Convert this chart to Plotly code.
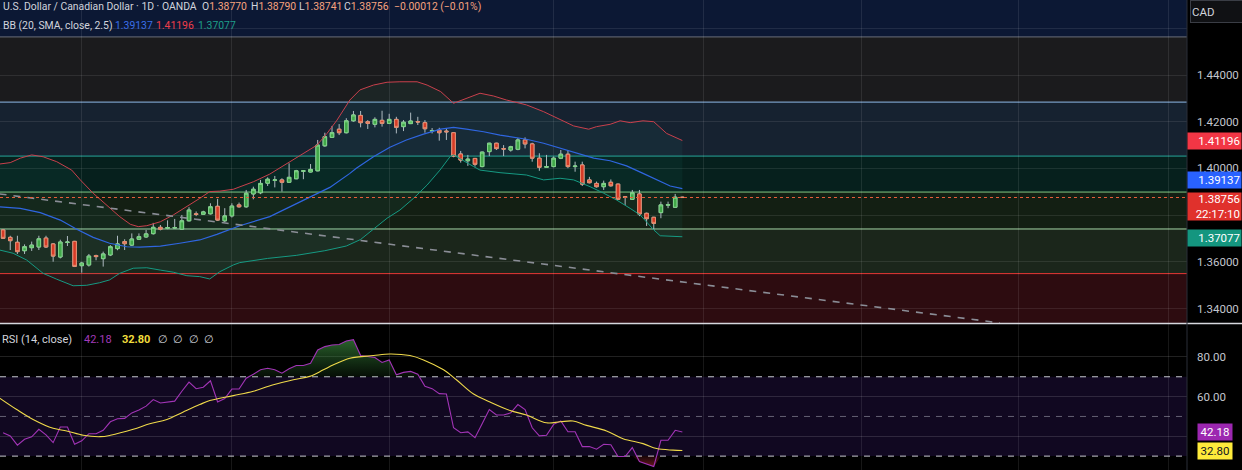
import plotly.graph_objects as go

# ---------------- data ----------------
opens = [1.3737,1.3705,1.3684,1.3648,1.3661,1.3664,1.3702,1.3677,1.3621,1.3683,
         1.3688,1.3584,1.3587,1.3627,1.3614,1.3630,1.3657,1.3687,1.3672,1.3697,
         1.3707,1.3721,1.3748,1.3744,1.3745,1.3740,1.3776,1.3806,1.3804,1.3806,
         1.3838,1.3776,1.3797,1.3844,1.3836,1.3891,1.3896,1.3937,1.3949,1.3951,
         1.3941,1.3956,1.3988,1.3985,1.3990,1.4097,1.4133,1.4168,1.4153,1.4204,
         1.4227,1.4200,1.4189,1.4206,1.4193,1.4210,1.4179,1.4192,1.4201,1.4196,
         1.4160,1.4164,1.4160,1.4153,1.4062,1.4033,1.4043,1.4008,1.4072,1.4108,
         1.4085,1.4079,1.4082,1.4122,1.4105,1.4044,1.4005,1.4008,1.4044,1.4061,
         1.4008,1.4015,1.3951,1.3936,1.3922,1.3941,1.3933,1.3879,1.3868,1.3891,
         1.3808,1.3791,1.3811,1.3843,1.3834,1.38770]
highs = [1.3740,1.3712,1.3712,1.3675,1.3687,1.3712,1.3712,1.3680,1.3695,1.3711,
         1.3690,1.3600,1.3634,1.3631,1.3644,1.3672,1.3712,1.3697,1.3722,1.3722,
         1.3737,1.3767,1.3758,1.3778,1.3784,1.3801,1.3834,1.3816,1.3819,1.3851,
         1.3870,1.3830,1.3851,1.3854,1.3908,1.3922,1.3951,1.3962,1.3968,1.3958,
         1.4022,1.3994,1.3993,1.4019,1.4122,1.4153,1.4182,1.4190,1.4215,1.4246,
         1.4246,1.4207,1.4219,1.4247,1.4234,1.4221,1.4207,1.4239,1.4221,1.4207,
         1.4173,1.4174,1.4172,1.4155,1.4075,1.4058,1.4045,1.4072,1.4110,1.4110,
         1.4100,1.4097,1.4130,1.4133,1.4110,1.4065,1.4058,1.4051,1.4079,1.4079,
         1.4029,1.4029,1.3964,1.3944,1.3948,1.3953,1.3935,1.3879,1.3908,1.3908,
         1.3811,1.3793,1.3858,1.3858,1.3891,1.38790]
lows = [1.3698,1.3651,1.3634,1.3634,1.3647,1.3651,1.3660,1.3601,1.3615,1.3668,
        1.3578,1.3554,1.3580,1.3607,1.3580,1.3625,1.3650,1.3651,1.3668,1.3694,
        1.3703,1.3717,1.3735,1.3740,1.3742,1.3738,1.3773,1.3796,1.3802,1.3803,
        1.3776,1.3770,1.3790,1.3832,1.3832,1.3868,1.3890,1.3925,1.3919,1.3901,
        1.3938,1.3954,1.3954,1.3983,1.3988,1.4093,1.4131,1.4143,1.4150,1.4200,
        1.4176,1.4169,1.4176,1.4179,1.4190,1.4150,1.4160,1.4190,1.4186,1.4153,
        1.4150,1.4119,1.4122,1.4048,1.4025,1.4011,1.4008,1.4005,1.4053,1.4079,
        1.4053,1.4072,1.4078,1.4086,1.4029,1.3990,1.4005,1.4005,1.4040,1.4001,
        1.3986,1.3925,1.3936,1.3918,1.3908,1.3922,1.3865,1.3844,1.3865,1.3796,
        1.3754,1.3737,1.3787,1.3830,1.3832,1.38741]
closes = [1.3701,1.3691,1.3644,1.3665,1.3672,1.3699,1.3664,1.3625,1.3685,1.3685,
          1.3581,1.3595,1.3625,1.3623,1.3634,1.3665,1.3677,1.3678,1.3698,1.3708,
          1.3720,1.3748,1.3740,1.3747,1.3747,1.3776,1.3822,1.3803,1.3814,1.3836,
          1.3779,1.3797,1.3839,1.3836,1.3894,1.3911,1.3936,1.3954,1.3951,1.3941,
          1.3962,1.3990,1.3990,1.3996,1.4100,1.4136,1.4153,1.4153,1.4204,1.4229,
          1.4196,1.4193,1.4210,1.4193,1.4210,1.4176,1.4198,1.4203,1.4199,1.4170,
          1.4162,1.4153,1.4157,1.4053,1.4036,1.4040,1.4018,1.4070,1.4108,1.4085,
          1.4083,1.4093,1.4122,1.4105,1.4044,1.4005,1.4008,1.4044,1.4061,1.4008,
          1.4010,1.3933,1.3939,1.3922,1.3936,1.3926,1.3868,1.3876,1.3896,1.3805,
          1.3785,1.3765,1.3844,1.3845,1.3877,1.38756]

bb_upper_x = [-0.5,1,2.4,4,5.6,7.5,9.6,10.8,12.6,14.5,16.3,17.8,18.9,20.1,22,23.8,25.7,27.5,
              28.9,30.3,32.2,35,37.3,40.1,42.9,43.9,45.3,46.7,48.5,49.9,51.8,53.7,55.5,57.9,
              59.3,61.2,63,64.8,66.7,68.6,70.4,72.3,73.2,75.6,77.9,79.8,81.9,83,84.9,86.3,
              87.7,89.5,91,92.8,95]
bb_upper = [1.4019,1.4025,1.4044,1.4058,1.4050,1.4029,1.3993,1.3951,1.3894,1.3844,1.3794,
            1.3761,1.3751,1.3755,1.3772,1.3801,1.3836,1.3872,1.3901,1.3903,1.3911,1.3943,
            1.3976,1.4029,1.4079,1.4100,1.4150,1.4207,1.4293,1.4336,1.4357,1.4369,1.4371,
            1.4371,1.4357,1.4329,1.4279,1.4300,1.4322,1.4310,1.4293,1.4279,1.4272,1.4243,
            1.4210,1.4182,1.4168,1.4179,1.4189,1.4204,1.4196,1.4204,1.4200,1.4150,1.41196]
bb_mid_x = [-0.5,2.4,5.2,8,10.3,12.6,14.9,17.3,19.1,22,24.7,27.5,29.9,32.2,33.1,37.3,42.9,
            45.7,48.5,49.4,51.8,54.1,56.4,58.8,61.2,63,64.8,67.2,69.5,72.3,73.2,75.6,77.9,
            80.2,82.6,84.9,87.2,89.5,91.9,93.3,95]
bb_mid = [1.3836,1.3829,1.3811,1.3779,1.3740,1.3705,1.3680,1.3665,1.3663,1.3668,1.3680,
          1.3694,1.3718,1.3744,1.3755,1.3794,1.3879,1.3919,1.3979,1.4001,1.4050,1.4091,
          1.4122,1.4147,1.4168,1.4176,1.4168,1.4157,1.4143,1.4129,1.4125,1.4108,1.4086,
          1.4065,1.4044,1.4033,1.4011,1.3979,1.3943,1.3925,1.39137]
bb_lower_x = [-0.5,1.4,3.3,5.6,7.5,9.8,11.7,13.5,14.9,16.3,18.2,20.1,22,23.8,25.7,27.5,28.9,
              30.3,32.2,33.1,37,41,45,48,50,53.7,55.5,57.4,59.3,61.1,62.5,63,65.8,66.7,
              69.5,72.3,73.2,75.6,77.9,79.8,82.1,84,85.8,87.7,89.1,91,91.9,95]
bb_lower = [1.3651,1.3637,1.3608,1.3551,1.3526,1.3498,1.3500,1.3511,1.3523,1.3551,1.3573,
            1.3575,1.3565,1.3556,1.3541,1.3537,1.3527,1.3558,1.3587,1.3597,1.3615,1.3628,
            1.3648,1.3668,1.3696,1.3787,1.3822,1.3872,1.3929,1.3993,1.4050,1.4058,1.4008,
            1.3993,1.3982,1.3975,1.3972,1.3951,1.3958,1.3951,1.3922,1.3894,1.3865,1.3829,
            1.3801,1.3737,1.3712,1.37077]

rsi = [41.8,40.2,35.5,38.5,39.7,43.5,40.7,36.8,44.7,44.7,36.0,37.7,41.3,41.3,43.0,47.3,
       48.8,49.0,51.8,53.2,55.2,58.5,56.8,57.3,57.7,62.7,67.3,64.0,64.7,68.0,57.3,59.0,
       63.8,63.8,69.3,71.3,73.5,74.3,73.5,71.8,74.0,75.7,75.7,76.8,83.5,85.2,86.0,86.3,
       88.0,88.7,80.7,80.2,79.7,77.2,78.5,71.0,72.2,72.7,71.3,65.2,64.0,61.5,61.3,44.3,
       41.8,42.2,39.3,46.3,53.5,50.7,50.7,51.8,56.0,53.5,44.3,40.2,40.5,46.0,47.7,42.3,
       42.3,34.8,34.8,33.5,36.0,35.7,29.8,29.8,34.3,27.3,26.0,24.7,38.0,38.0,43.0,42.18]
rsi_ma_x = [-0.5,1.9,4.2,7.0,8.9,11.2,13.6,15.0,18.2,20.5,22.9,25.2,27.5,28.9,32.2,35.0,37.8,
            40.6,42.9,44.8,46.2,48.5,51.8,54.1,56.9,58.8,61.6,63.4,65.8,68.1,70.9,73.2,76.0,
            77.9,79.7,81.6,84.4,86.7,89.5,91.4,93.7,95]
rsi_ma = [59.3,53.5,48.5,44.0,42.7,40.5,39.8,40.5,43.5,46.3,48.5,52.3,56.0,58.0,60.5,62.7,
          66.0,68.5,70.2,73.5,76.0,79.3,80.7,81.5,80.7,78.5,73.5,68.5,61.3,57.3,53.0,50.7,
          46.8,47.3,47.7,45.5,42.7,38.8,36.3,33.8,33.0,32.8]

trend_x = [-0.5, 139.4]
trend_y = [1.3891, 1.3339]

zone_levels = [1.4563, 1.4284, 1.4053, 1.3899, 1.3741, 1.3550]
zone_line_colors = ["#6b6e78", "#8fbbe8", "#26a69a", "#81c784", "#a5d6a7", "#e53935"]
zone_fill_colors = ["#0c1834", "#1b1b1d", "#162230", "#06201d", "#131f13", "#1b261b", "#2d0c10"]

last_price = 1.38756
price_ticks = [1.34, 1.36, 1.38, 1.40, 1.42, 1.44, 1.46]
price_ticktext = ["1.34000", "1.36000", "", "1.40000", "1.42000", "1.44000", ""]
rsi_ticks = [40, 60, 80]
rsi_ticktext = ["", "60.00", "80.00"]
month_grid = [11, 32, 54, 77, 98, 120, 142, 163]

W, H = 1242, 470
PLOT_R = 1187 / W
Y_TOP = [1.33373, 1.4721]
RSI_RANGE = [23.0, 96.6]
n = len(closes)
idx = list(range(n))

GREEN_F, GREEN_L = "#43a843", "#86d886"
RED_F, RED_L = "#e5331f", "#f58a6a"
WICK = "#b9bcc4"

fig = go.Figure()

# Bollinger band fill + lines
fig.add_trace(go.Scatter(x=bb_lower_x, y=bb_lower, mode="lines",
                         line=dict(color="#169a83", width=1), hoverinfo="skip"))
fig.add_trace(go.Scatter(x=bb_upper_x, y=bb_upper, mode="lines", fill="tonexty",
                         fillcolor="rgba(38,166,154,0.07)",
                         line=dict(color="#c9404c", width=1), hoverinfo="skip"))
fig.add_trace(go.Scatter(x=bb_mid_x, y=bb_mid, mode="lines",
                         line=dict(color="#2f66e0", width=1.2), hoverinfo="skip"))
# trend line
fig.add_trace(go.Scatter(x=trend_x, y=trend_y, mode="lines",
                         line=dict(color="#8a8d96", width=1.6, dash="7px,7px"), hoverinfo="skip"))

# candles: wicks then bodies
fig.add_trace(go.Candlestick(x=idx, open=opens, high=highs, low=lows, close=closes,
                             increasing=dict(line=dict(color=WICK, width=1), fillcolor=WICK),
                             decreasing=dict(line=dict(color=WICK, width=1), fillcolor=WICK),
                             whiskerwidth=0, hoverinfo="skip"))
body_hi = [max(o, c) for o, c in zip(opens, closes)]
body_lo = [min(o, c) for o, c in zip(opens, closes)]
fig.add_trace(go.Candlestick(x=idx, open=opens, high=body_hi, low=body_lo, close=closes,
                             increasing=dict(line=dict(color=GREEN_L, width=1), fillcolor=GREEN_F),
                             decreasing=dict(line=dict(color=RED_L, width=1), fillcolor=RED_F),
                             whiskerwidth=0, hoverinfo="skip"))

# RSI fills
rsi_hi = [max(v, 70) for v in rsi]
rsi_lo = [min(v, 30) for v in rsi]
fig.add_trace(go.Scatter(x=[-0.5, n - 1], y=[70, 70], mode="lines", line=dict(width=0),
                         xaxis="x2", yaxis="y2", hoverinfo="skip"))
fig.add_trace(go.Scatter(x=idx, y=rsi_hi, mode="lines", line=dict(width=0), fill="tonexty",
                         fillgradient=dict(type="vertical", start=70, stop=90,
                                           colorscale=[[0, "rgba(56,142,60,0.10)"],
                                                       [1, "rgba(76,175,80,0.60)"]]),
                         xaxis="x2", yaxis="y2", hoverinfo="skip"))
fig.add_trace(go.Scatter(x=[-0.5, n - 1], y=[30, 30], mode="lines", line=dict(width=0),
                         xaxis="x2", yaxis="y2", hoverinfo="skip"))
fig.add_trace(go.Scatter(x=idx, y=rsi_lo, mode="lines", line=dict(width=0), fill="tonexty",
                         fillgradient=dict(type="vertical", start=30, stop=22,
                                           colorscale=[[0, "rgba(242,54,69,0.10)"],
                                                       [1, "rgba(242,54,69,0.60)"]]),
                         xaxis="x2", yaxis="y2", hoverinfo="skip"))
fig.add_trace(go.Scatter(x=idx, y=rsi, mode="lines", line=dict(color="#a234b6", width=1.1),
                         xaxis="x2", yaxis="y2", hoverinfo="skip"))
fig.add_trace(go.Scatter(x=rsi_ma_x, y=rsi_ma, mode="lines", line=dict(color="#efd94a", width=1.1, shape="spline"),
                         xaxis="x2", yaxis="y2", hoverinfo="skip"))

shapes = []
# zones
bounds = [Y_TOP[1]] + zone_levels + [Y_TOP[0]]
for k, col in enumerate(zone_fill_colors):
    shapes.append(dict(type="rect", xref="x domain", yref="y", x0=0, x1=1,
                       y0=bounds[k + 1], y1=bounds[k], fillcolor=col, line=dict(width=0), layer="below"))
for lvl, col in zip(zone_levels, zone_line_colors):
    shapes.append(dict(type="line", xref="x domain", yref="y", x0=0, x1=1, y0=lvl, y1=lvl,
                       line=dict(color=col, width=1), layer="below"))
# current price dotted line
shapes.append(dict(type="line", xref="x domain", yref="y", x0=0, x1=1, y0=last_price, y1=last_price,
                   line=dict(color="#e8603c", width=1, dash="dot"), layer="above"))
# RSI band
shapes.append(dict(type="rect", xref="x2 domain", yref="y2", x0=0, x1=1, y0=30, y1=70,
                   fillcolor="#110821", line=dict(width=0), layer="below"))
for lvl, col in [(70, "#c8cad0"), (50, "rgba(170,172,182,0.55)"), (30, "#c8cad0")]:
    shapes.append(dict(type="line", xref="x2 domain", yref="y2", x0=0, x1=1, y0=lvl, y1=lvl,
                       line=dict(color=col, width=1, dash="6px,6px"), layer="below"))
# pane separator and axis border
shapes.append(dict(type="line", xref="paper", yref="paper", x0=0, x1=1,
                   y0=1 - 323.5 / H, y1=1 - 323.5 / H, line=dict(color="#d6d8de", width=1.5)))
shapes.append(dict(type="line", xref="paper", yref="paper", x0=PLOT_R, x1=PLOT_R, y0=0, y1=1,
                   line=dict(color="#2a2e39", width=1)))

ann = []
FONT = "Roboto, Arial, sans-serif"

def txt(x_px, y_px, text, color, size=10.4, bold=False):
    t = f"<b>{text}</b>" if bold else text
    ann.append(dict(xref="paper", yref="paper", x=x_px / W, y=1 - y_px / H, text=t,
                    showarrow=False, xanchor="left", yanchor="middle",
                    font=dict(family=FONT, size=size, color=color)))

ORANGE = "#f5a27e"
txt(1, 7, "U.S. Dollar / Canadian Dollar · 1D · OANDA", "#d1d4dc")
txt(200, 7, f"O<span style='color:{ORANGE}'>{opens[-1]:.5f}</span>", "#d1d4dc")
txt(249, 7, f"H<span style='color:{ORANGE}'>{highs[-1]:.5f}</span>", "#d1d4dc")
txt(297, 7, f"L<span style='color:{ORANGE}'>{lows[-1]:.5f}</span>", "#d1d4dc")
txt(342, 7, f"C<span style='color:{ORANGE}'>{closes[-1]:.5f}</span>", "#d1d4dc")
txt(392, 7, "−0.00012 (−0.01%)", ORANGE)
txt(1, 25, "BB (20, SMA, close, 2.5)", "#d1d4dc")
txt(113, 25, f"{bb_mid[-1]:.5f}", "#3a6ee8")
txt(154, 25, f"{bb_upper[-1]:.5f}", "#ee3e4a")
txt(196, 25, f"{bb_lower[-1]:.5f}", "#1e9e89")
txt(0, 339, "RSI (14, close)", "#d1d4dc", size=11)
txt(82, 339, f"{rsi[-1]:.2f}", "#a23ab8", size=11)
txt(120, 339, f"{rsi_ma[-1]:.2f}", "#f0dc3c", size=11, bold=True)
txt(156, 339, "∅&nbsp;&nbsp;∅&nbsp;&nbsp;∅&nbsp;&nbsp;∅", "#d1d4dc", size=11)

def price_box(val, bg, fg="#ffffff", text=None, yshift=0, h=14, yanchor="middle"):
    ann.append(dict(xref="paper", yref="y", x=PLOT_R, y=val, xanchor="left", yanchor=yanchor,
                    text=text or f"{val:.5f}", showarrow=False, bgcolor=bg, width=51, height=h,
                    align="right", borderpad=1, yshift=yshift,
                    font=dict(family=FONT, size=11.5, color=fg)))

price_box(bb_upper[-1], "#f23645")
price_box(bb_mid[-1], "#2962ff", yshift=8.5)
price_box(last_price, "#e0312c", text=f"{last_price:.5f}<br>22:17:10", yshift=6, h=25, yanchor="top")
price_box(bb_lower[-1], "#14967f", yshift=-1)

def rsi_box(val, bg, fg):
    ann.append(dict(xref="paper", yref="y2", x=1197 / W, y=val, xanchor="left", yanchor="middle",
                    text=f"{val:.2f}", showarrow=False, bgcolor=bg, width=32, height=14,
                    align="center", borderpad=1, font=dict(family=FONT, size=11.5, color=fg)))

rsi_box(rsi[-1], "#9c27b0", "#ffffff")
rsi_box(rsi_ma[-1], "#ffeb3b", "#131722")

ann.append(dict(xref="paper", yref="paper", x=1190 / W, y=1, xanchor="left", yanchor="top",
                text="CAD", showarrow=False, bgcolor="#101114", bordercolor="#3a3d45", borderwidth=1,
                width=56, height=19, align="left", borderpad=1,
                font=dict(family=FONT, size=11.5, color="#d1d4dc")))

axis_common = dict(range=[-0.434, 165.58], tickvals=month_grid, showticklabels=False, showgrid=True,
                   gridcolor="rgba(255,255,255,0.09)", gridwidth=1, zeroline=False, showline=False,
                   ticks="", fixedrange=True)
fig.update_layout(
    width=W, height=H, margin=dict(l=0, r=0, t=0, b=0, pad=0, autoexpand=False),
    paper_bgcolor="#000000", plot_bgcolor="#000000", showlegend=False,
    boxgap=0.3,
    xaxis=dict(domain=[0, PLOT_R], anchor="y", rangeslider=dict(visible=False), **axis_common),
    xaxis2=dict(domain=[0, PLOT_R], anchor="y2", matches="x", **axis_common),
    yaxis=dict(domain=[1 - 323.3 / H, 1], range=Y_TOP, side="right", tickvals=price_ticks,
               ticktext=price_ticktext, showgrid=True, gridcolor="rgba(255,255,255,0.09)",
               zeroline=False, ticks="", ticklabelstandoff=9,
               tickfont=dict(family=FONT, size=11.5, color="#c3c6ce")),
    yaxis2=dict(domain=[0, 146 / H], range=RSI_RANGE, side="right", tickvals=rsi_ticks,
                ticktext=rsi_ticktext, showgrid=True, gridcolor="rgba(255,255,255,0.13)",
                zeroline=False, ticks="", ticklabelstandoff=9,
                tickfont=dict(family=FONT, size=11.5, color="#c3c6ce")),
    shapes=shapes, annotations=ann,
)

fig.write_html("out.html", config={"displayModeBar": False, "staticPlot": True},
               post_script="document.body.style.margin='0px';document.body.style.background='#000';")
